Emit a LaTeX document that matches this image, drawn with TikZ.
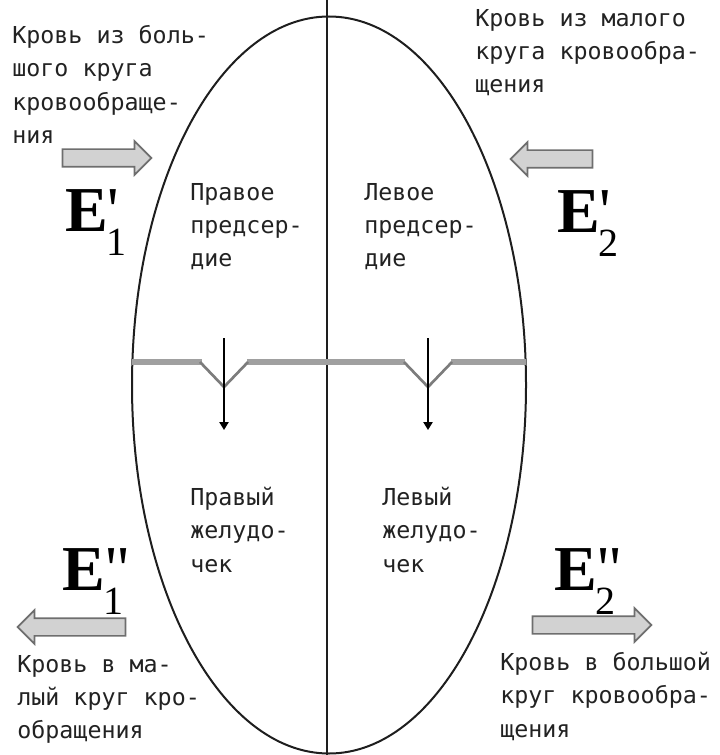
\documentclass[tikz,border=0pt]{standalone}
\usepackage{fontspec}
\newfontfamily\txtfont{DejaVu Sans Mono}
\newfontfamily\efont{Liberation Serif}
\usetikzlibrary{arrows.meta, shapes.geometric, shapes.arrows}
\definecolor{cLine}{HTML}{1E1E1E}
\definecolor{cBand}{HTML}{A0A0A0}
\definecolor{cNotch}{HTML}{7C7C7C}
\definecolor{cArrow}{HTML}{6E6E6E}
\definecolor{cArrowFill}{HTML}{D2D2D2}
\definecolor{cText}{HTML}{222222}
\newcommand{\Elbl}[2]{E\rlap{\mdseries#1}\hspace{-1pt}\raisebox{-18pt}{\mdseries\fontsize{30}{30}\selectfont #2}}
\tikzset{
    x=0.75pt, y=-0.75pt,
    heart/.style={ellipse, draw=cLine, line width=1.5pt, inner sep=0pt,
                  minimum width=295.5pt, minimum height=552.75pt},
    wall/.style={draw=cLine, line width=1.5pt},
    band/.style={draw=cBand, line width=5.2pt},
    notch/.style={draw=cNotch, line width=2pt},
    valve/.style={-{Triangle[length=6pt, width=7pt]}, draw=black, line width=1.1pt},
    blk/.style={single arrow, draw=cArrow, fill=cArrowFill, line width=1.3pt,
                inner xsep=0pt, inner ysep=6pt, single arrow head extend=6pt},
    txt/.style={font=\txtfont\fontsize{17.5}{25}\selectfont, text=cText,
                align=left, anchor=north west, inner sep=0pt},
    elbl/.style={font=\efont\bfseries\fontsize{48}{48}\selectfont, anchor=base west,
                 inner sep=0pt},
}

\begin{document}
\begin{tikzpicture}
    \useasboundingbox (0,0) rectangle (719,755);

    \node[heart] (heart) at (329,385) {};
    \coordinate (divtop) at (327,0);
    \coordinate (divbot) at (327,755);
    \draw[wall] (divtop) -- (divbot);

    % valves between atria and ventricles
    \draw[band] (132,362) -- (202,362);
    \draw[band] (247,362) -- (405,362);
    \draw[band] (451,362) -- (526,362);
    \foreach \vx [count=\i] in {224,428} {
        \draw[notch] (\vx-24,362) -- (\vx,387) -- (\vx+24,362);
        \coordinate (vtop\i) at (\vx,338);
        \coordinate (vbot\i) at (\vx,430);
        \draw[valve] (vtop\i) -- (vbot\i);
    }

    \node[txt] (ra) at (190,183) {Правое\\предсер-\\дие};
    \node[txt] (la) at (364,183) {Левое\\предсер-\\дие};
    \node[txt] (rv) at (190,487) {Правый\\желудо-\\чек};
    \node[txt] (lv) at (382,487) {Левый\\желудо-\\чек};

    \node[txt] (inBig) at (12,25) {Кровь из боль-\\шого круга\\кровообраще-\\ния};
    \node[txt] (inSmall) at (475,9) {Кровь из малого\\круга кровообра-\\щения};
    \node[txt] (outSmall) at (17,655) {Кровь в ма-\\лый круг кро-\\обращения};
    \node[txt] (outBig) at (500,652) {Кровь в большой\\круг кровообра-\\щения};

    \node[blk, minimum height=66.75pt] (arrIn1) at (102.5,158) {};
    \node[blk, minimum height=61.5pt, rotate=180] (arrIn2) at (556,159) {};
    \node[blk, minimum height=81pt, rotate=180] (arrOut1) at (76,627) {};
    \node[blk, minimum height=89.25pt] (arrOut2) at (587.5,625) {};

    \node[elbl] (e1a) at (65,232) {\Elbl{'}{1}};
    \node[elbl] (e2a) at (557,233) {\Elbl{'}{2}};
    \node[elbl] (e1b) at (62,590) {\Elbl{"}{1}};
    \node[elbl] (e2b) at (554,590) {\Elbl{"}{2}};
\end{tikzpicture}
\end{document}
